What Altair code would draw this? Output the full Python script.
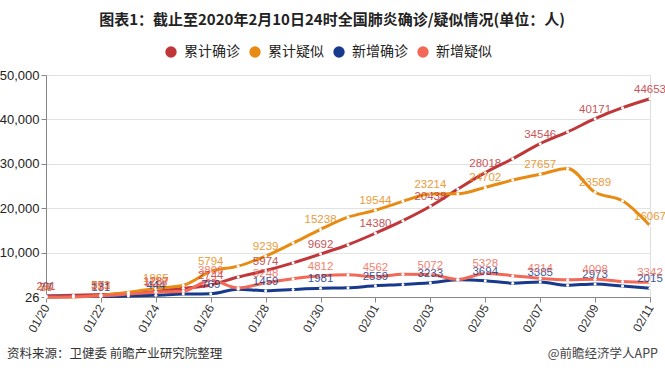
import altair as alt
import pandas as pd

dates = ["01/20", "01/21", "01/22", "01/23", "01/24", "01/25", "01/26", "01/27",
         "01/28", "01/29", "01/30", "01/31", "02/01", "02/02", "02/03", "02/04",
         "02/05", "02/06", "02/07", "02/08", "02/09", "02/10", "02/11"]

cum_confirmed = [291, 440, 571, 830, 1287, 1975, 2744, 4515, 5974, 7711, 9692, 11791,
                 14380, 17205, 20438, 24324, 28018, 31161, 34546, 37198, 40171, 42638, 44653]
cum_suspected = [54, 37, 393, 1072, 1965, 2684, 5794, 6973, 9239, 12167, 15238, 17988,
                 19544, 21558, 23214, 23260, 24702, 26359, 27657, 28942, 23589, 21675, 16067]
new_confirmed = [77, 149, 131, 259, 444, 688, 769, 1771, 1459, 1737, 1981, 2102,
                 2559, 2829, 3233, 3887, 3694, 3143, 3385, 2656, 2973, 2478, 2015]
new_suspected = [26, 60, 257, 680, 1118, 1309, 3806, 2077, 3248, 4148, 4812, 5019,
                 4562, 5173, 5072, 3971, 5328, 4833, 4214, 3916, 4008, 3536, 3342]

series_names = ["累计确诊", "累计疑似", "新增确诊", "新增疑似"]
series_colors = ["#c0373a", "#e88b13", "#173a8c", "#f26a57"]
y_ticks = [26, 10000, 20000, 30000, 40000, 50000]

title_text = "图表1：截止至2020年2月10日24时全国肺炎确诊/疑似情况(单位：人)"
source_text = "资料来源：卫健委 前瞻产业研究院整理"
brand_text = "@前瞻经济学人APP"

rows = []
for name, vals in zip(series_names, [cum_confirmed, cum_suspected, new_confirmed, new_suspected]):
    for i, (d, v) in enumerate(zip(dates, vals)):
        rows.append({"date": d, "value": v, "series": name, "idx": i})
df = pd.DataFrame(rows)

CJK = "Noto Sans CJK SC"

x_enc = alt.X("date:O", sort=dates, title=None,
              scale=alt.Scale(type="point", padding=0),
              axis=alt.Axis(values=dates[::2], labelAngle=300, labelFontSize=12,
                            labelColor="#333", labelFont="Liberation Sans",
                            domainColor="#888", tickColor="#888", tickSize=5,
                            labelPadding=3, grid=False))
y_enc = alt.Y("value:Q", title=None,
              scale=alt.Scale(domain=[26, 50000], nice=False, zero=False),
              axis=alt.Axis(values=y_ticks, format=",d", labelFontSize=13,
                            labelColor="#222", labelFont="Liberation Sans",
                            domainColor="#888", tickColor="#888", tickSize=5,
                            gridColor="#e2e2e2", labelPadding=2))
color_enc = alt.Color("series:N", sort=series_names,
                      scale=alt.Scale(domain=series_names, range=series_colors),
                      legend=alt.Legend(title=None, orient="none", direction="horizontal",
                                        legendX=118, legendY=-30, symbolType="circle",
                                        symbolSize=130, symbolStrokeWidth=0,
                                        labelFont=CJK, labelFontSize=14, labelColor="#222",
                                        columnPadding=8, labelOffset=6))

base = alt.Chart(df).encode(x=x_enc, y=y_enc)

lines = base.mark_line(interpolate="monotone", strokeWidth=3).encode(color=color_enc)
points = base.mark_circle(size=9, opacity=1).encode(color=alt.value("white"))
labels = base.mark_text(dy=-9, fontSize=11.5, font="Liberation Sans", opacity=0.85).encode(
    text=alt.Text("value:Q", format="d"),
    color=alt.Color("series:N", scale=alt.Scale(domain=series_names, range=series_colors), legend=None),
).transform_filter("datum.idx % 2 == 0")

title = alt.Chart(pd.DataFrame({"t": [title_text]})).mark_text(
    font=CJK, fontSize=15, fontWeight="bold", color="#222", align="center", baseline="middle"
).encode(x=alt.value(286), y=alt.value(-55), text="t:N")

source = alt.Chart(pd.DataFrame({"t": [source_text]})).mark_text(
    font=CJK, fontSize=12.5, color="#333", align="left", baseline="middle"
).encode(x=alt.value(-39), y=alt.value(279), text="t:N")

brand = alt.Chart(pd.DataFrame({"t": [brand_text]})).mark_text(
    font=CJK, fontSize=12.5, color="#444", align="right", baseline="middle"
).encode(x=alt.value(612), y=alt.value(279), text="t:N")

chart = alt.layer(lines, points, labels, title, source, brand).properties(
    width=604, height=222,
    autosize=alt.AutoSizeParams(type="none"),
    padding={"left": 46, "top": 75, "right": 15, "bottom": 78},
).configure_view(stroke=None).configure(background="white")

chart.save("out.html", embed_options={"renderer": "svg", "actions": False})
